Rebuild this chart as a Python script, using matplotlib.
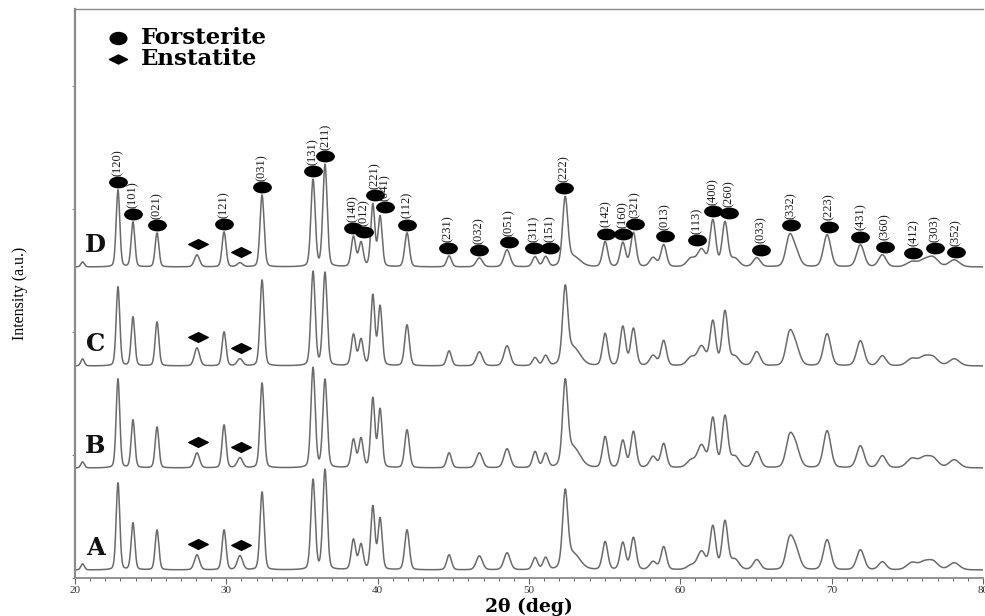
import numpy as np
import matplotlib
matplotlib.use("Agg")
import matplotlib.pyplot as plt
from matplotlib.path import Path
from matplotlib.ticker import MultipleLocator, NullFormatter

# ---------------- data ----------------
samples = ["A", "B", "C", "D"]
baselines = [8, 110, 212, 311]          # vertical stacking of the patterns (a.u.)

peak_pos = [20.5, 22.84, 23.83, 25.42, 28.06, 29.85, 30.9, 32.36, 35.73, 36.52,
            38.4, 38.9, 39.68, 40.16, 41.94, 44.72, 46.72, 48.55, 50.4, 51.1,
            52.39, 52.9, 55.03, 56.2, 56.9, 58.2, 58.9, 60.7, 61.4, 62.15,
            62.95, 63.6, 65.05, 67.2, 67.6, 69.7, 71.9, 73.35, 75.3, 76.1,
            76.7, 78.1]
peak_extra_width = [0, 0, 0, 0, 0.1, 0, 0.1, 0, 0, 0,
                    0, 0, -0.03, -0.03, 0, 0, 0.1, 0.1, 0, 0,
                    0, 0.7, 0, 0, 0, 0.1, 0, 0.2, 0.2, 0,
                    0, 0.2, 0.1, 0.1, 0.2, 0.1, 0.1, 0.1, 0.3, 0.3,
                    0.3, 0.3]
heights_A = [6, 87, 47, 40, 15, 40, 14, 78, 90, 100,
             30, 25, 63, 51, 40, 15, 14, 17, 12, 12,
             72, 16, 28, 27, 32, 8, 23, 4, 18, 43,
             48, 10, 10, 26, 20, 30, 20, 8, 7, 7,
             8, 7]
heights_B = [6, 89, 48, 41, 15, 43, 10, 85, 100, 88,
             28, 29, 69, 58, 38, 15, 15, 19, 16, 14,
             78, 20, 31, 27, 36, 11, 24, 7, 22, 49,
             51, 11, 16, 26, 21, 37, 22, 12, 9, 9,
             9, 8]
heights_C = [7, 79, 49, 44, 18, 34, 7, 86, 94, 93,
             31, 26, 70, 59, 41, 15, 14, 20, 8, 10,
             71, 18, 32, 39, 37, 10, 25, 8, 19, 44,
             54, 9, 14, 28, 19, 32, 25, 10, 7, 8,
             8, 7]
heights_D = [5, 77, 45, 34, 12, 35, 4, 72, 87, 102,
             30, 24, 62, 50, 34, 11, 9, 17, 10, 10,
             65, 10, 25, 24, 34, 9, 22, 8, 17, 46,
             44, 8, 9, 27, 15, 32, 22, 12, 5, 6,
             9, 7]
all_heights = [heights_A, heights_B, heights_C, heights_D]

fo_labels = ["(120)", "(101)", "(021)", "(121)", "(031)", "(131)", "(211)",
             "(140)", "(012)", "(221)", "(041)", "(112)", "(231)", "(032)",
             "(051)", "(311)", "(151)", "(222)", "(142)", "(160)", "(321)",
             "(013)", "(113)", "(400)", "(260)", "(033)", "(332)", "(223)",
             "(431)", "(360)", "(412)", "(303)", "(352)"]
fo_pos = [22.85, 23.85, 25.4, 29.85, 32.35, 35.7, 36.55, 38.35, 39.1, 39.8,
          40.5, 41.95, 44.65, 46.7, 48.65, 50.3, 51.4, 52.3, 55.1, 56.2,
          57.0, 59.0, 61.1, 62.15, 63.2, 65.3, 67.3, 69.8, 71.9, 73.5,
          75.4, 76.8, 78.2]
en_pos = [28.1, 31.0]

xticks = [20, 30, 40, 50, 60, 70, 80]

# ---------------- figure ----------------
fig = plt.figure(figsize=(9.85, 6.16), dpi=100)
ax = fig.add_axes([75 / 985, 1 - 578 / 616, 908 / 985, 569 / 616])

two_theta = np.arange(20.0, 80.0001, 0.02)


def pattern(heights):
    y = np.zeros_like(two_theta)
    for p, h, ew in zip(peak_pos, heights, peak_extra_width):
        w = 0.27 + 0.004 * (p - 20) + ew
        g = np.exp(-4 * np.log(2) * ((two_theta - p) / w) ** 2)
        l = 1.0 / (1 + 4 * ((two_theta - p) / w) ** 2)
        y += h * (0.8 * g + 0.2 * l)
    return y


curves = {}
for s, b, hs in zip(samples, baselines, all_heights):
    y = pattern(hs)
    curves[s] = y
    ax.plot(two_theta, b + y, color="#6a6a6a", lw=1.1, zorder=2)
    ax.text(21.35, b + 22, s, fontsize=17.5, fontweight="bold",
            family="DejaVu Serif", ha="center", va="center", color="#111111")

ellipse = Path.unit_circle().transformed(matplotlib.transforms.Affine2D().scale(1.0, 0.6))
diamond = Path([(-1, 0), (0, 0.5), (1, 0), (0, -0.5), (-1, 0)],
               [Path.MOVETO, Path.LINETO, Path.LINETO, Path.LINETO, Path.CLOSEPOLY])


def local_max(y, x0, half=0.4):
    m = (two_theta >= x0 - half) & (two_theta <= x0 + half)
    return y[m].max()


# Forsterite markers and labels on pattern D
yD = curves["D"]
bD = baselines[3]
for lab, xp in zip(fo_labels, fo_pos):
    ym = bD + local_max(yD, xp) + 8
    ax.plot([xp], [ym], marker=ellipse, ms=12.5, color="black", ls="none", zorder=3)
    ax.annotate(lab, (xp, ym), xytext=(0, 4.5), textcoords="offset points",
                rotation=90, ha="center", va="bottom", fontsize=9,
                family="Liberation Serif", color="#1a1a1a")

# Enstatite markers on every pattern
for s, b in zip(samples, baselines):
    for xp in en_pos:
        ym = b + local_max(curves[s], xp) + 11
        ax.plot([xp], [ym], marker=diamond, ms=14, color="black", ls="none", zorder=3)

# legend (drawn by hand)
ax.plot([0.047], [0.949], marker=Path.unit_circle().transformed(
    matplotlib.transforms.Affine2D().scale(1.0, 0.72)), ms=12, color="black",
    transform=ax.transAxes, ls="none")
ax.plot([0.047], [0.912], marker=diamond, ms=13, color="black",
        transform=ax.transAxes, ls="none")
ax.text(0.073, 0.949, "Forsterite", transform=ax.transAxes, fontsize=16.5,
        fontweight="bold", family="DejaVu Serif", va="center", ha="left")
ax.text(0.073, 0.912, "Enstatite", transform=ax.transAxes, fontsize=16.5,
        fontweight="bold", family="DejaVu Serif", va="center", ha="left")

# axes styling
ax.set_xlim(20, 80)
ax.set_ylim(0, 569)
ax.set_xticks(xticks)
ax.set_xticklabels([str(t) for t in xticks], family="Liberation Serif", fontsize=8,
                   color="#333333")
ax.xaxis.set_minor_locator(MultipleLocator(1))
ax.yaxis.set_major_locator(MultipleLocator(123))
ax.yaxis.set_major_formatter(NullFormatter())
ax.tick_params(axis="x", which="major", direction="out", length=4, width=0.8,
               color="#666666", pad=2)
ax.tick_params(axis="x", which="minor", direction="out", length=2, width=0.7,
               color="#666666")
ax.tick_params(axis="y", which="major", direction="out", length=2, width=0.7,
               color="#888888")
for side in ["left", "bottom", "top"]:
    ax.spines[side].set_color("#8a8a8a")
ax.spines["left"].set_linewidth(1.6)
ax.spines["bottom"].set_linewidth(1.3)
ax.spines["top"].set_linewidth(1.0)
ax.spines["right"].set_visible(False)

ax.set_xlabel("2θ (deg)", family="DejaVu Serif", fontweight="bold", fontsize=13.5,
              labelpad=2)
ax.set_ylabel("Intensity (a.u.)", family="Liberation Serif", fontsize=11.5,
              labelpad=28)

fig.savefig("out.png", dpi=100)
